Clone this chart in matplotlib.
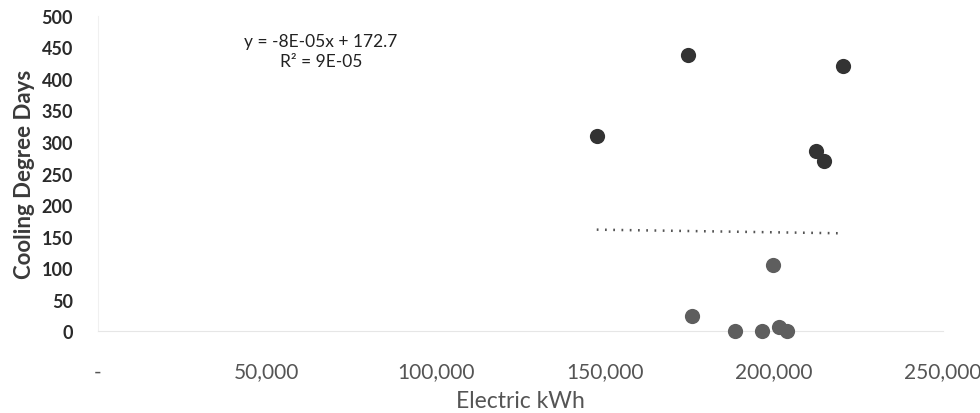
import numpy as np
import matplotlib
matplotlib.use("Agg")
import matplotlib.pyplot as plt
from matplotlib.ticker import FuncFormatter

# data
kwh_dark = [174600, 220400, 147600, 212400, 214800]
cdd_dark = [438, 421, 310, 286, 270]
kwh_light = [199700, 175700, 188500, 196400, 201500, 203800]
cdd_light = [105, 24, 0, 0, 7, 0]

# trendline as labelled on the chart
trend_slope = -8e-05
trend_intercept = 172.7
trend_label = "y = -8E-05x + 172.7\nR² = 9E-05"

x_ticks = [0, 50000, 100000, 150000, 200000, 250000]
y_ticks = [0, 50, 100, 150, 200, 250, 300, 350, 400, 450, 500]

plt.rcParams['font.family'] = ['Lato', 'DejaVu Sans']

fig = plt.figure(figsize=(9.8, 4.14), dpi=100)
ax = fig.add_axes([0.1, 0.198, 0.862, 0.761])

ax.scatter(kwh_dark, cdd_dark, s=120, color='#333333', zorder=3, clip_on=False, linewidths=0)
ax.scatter(kwh_light, cdd_light, s=120, color='#5e5e5e', zorder=3, clip_on=False, linewidths=0)

all_x = np.array(kwh_dark + kwh_light)
tx = np.array([all_x.min(), all_x.max()])
ax.plot(tx, trend_slope * tx + trend_intercept, color='#555555', lw=1.8,
        linestyle=(0, (0.7, 2.6)), zorder=2)

ax.text(66000, 445, trend_label, ha='center', va='center', fontsize=12.5,
        color='#222222', linespacing=1.3)

ax.set_xlim(0, 250000)
ax.set_ylim(0, 500)
ax.set_xticks(x_ticks)
ax.set_yticks(y_ticks)
ax.xaxis.set_major_formatter(FuncFormatter(lambda v, p: '-' if v == 0 else f"{int(v):,}"))
ax.tick_params(axis='both', length=0)
ax.tick_params(axis='x', pad=22, labelsize=15, labelcolor='#555555')
ax.tick_params(axis='y', pad=18, labelsize=13, labelcolor='#2a2a2a')
for lab in ax.get_yticklabels():
    lab.set_fontweight('bold')

for side in ['top', 'right']:
    ax.spines[side].set_visible(False)
ax.spines['left'].set_color('#f0f0f0')
ax.spines['bottom'].set_color('#e6e6e6')

ax.set_xlabel('Electric kWh', fontsize=16.5, color='#555555', labelpad=6)
ax.set_ylabel('Cooling Degree Days', fontsize=16, color='#3a3a3a', fontweight='bold', labelpad=5)

fig.savefig('out.png', dpi=100)
